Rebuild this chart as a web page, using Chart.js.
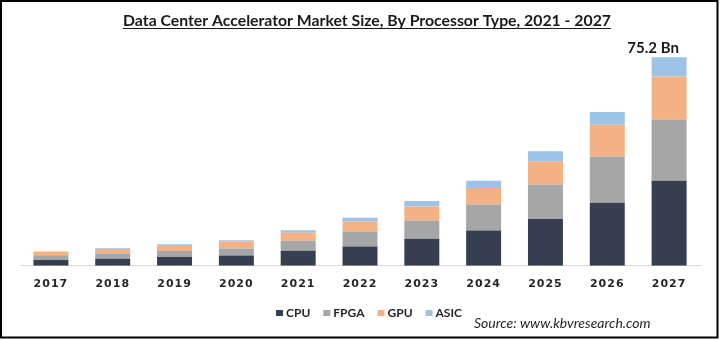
<!DOCTYPE html>
<html>
<head>
<meta charset="utf-8">
<script src="https://cdn.jsdelivr.net/npm/chart.js@4.4.1/dist/chart.umd.min.js"></script>
<style>
  html, body { margin: 0; padding: 0; background: #ffffff; }
  #wrap { width: 720px; height: 340px; position: relative; }
</style>
</head>
<body>
<div id="wrap"><canvas id="c" width="720" height="340"></canvas></div>
<script>
// Market size by processor type, USD billion
const years = ['2017', '2018', '2019', '2020', '2021', '2022', '2023', '2024', '2025', '2026', '2027'];
const cpu  = [2.1, 2.5, 3.2, 3.7, 5.4, 7.0, 9.8, 12.7, 16.9, 22.7, 30.7];
const fpga = [1.7, 1.9, 2.1, 2.5, 3.6, 5.4, 6.5, 9.4, 12.4, 16.7, 22.1];
const gpu  = [1.2, 1.7, 2.2, 2.6, 2.9, 3.6, 5.1, 6.0, 8.4, 11.5, 15.5];
const asic = [0.2, 0.2, 0.3, 0.4, 0.95, 1.3, 2.0, 2.6, 3.6, 4.6, 6.9];
const seriesNames = ['CPU', 'FPGA', 'GPU', 'ASIC'];
const seriesColors = ['#363f50', '#a6a6a6', '#f4b183', '#9dc3e6'];
const titleText = 'Data Center Accelerator Market Size, By Processor Type, 2021 - 2027';
const sourceText = 'Source: www.kbvresearch.com';
const unitText = 'Bn';

const seriesValues = [cpu, fpga, gpu, asic];

// Spaced-out year labels on the category axis
const spacedTicks = {
  id: 'spacedTicks',
  beforeDraw(chart) {
    const s = chart.scales.x;
    if (s && !s.__spaced) {
      const orig = s.drawLabels.bind(s);
      s.drawLabels = (area) => {
        const ctx = chart.ctx;
        ctx.save();
        ctx.letterSpacing = '1px';
        orig(area);
        ctx.restore();
      };
      s.__spaced = true;
    }
  }
};

// Title, legend, source note, total label and frame
const decorations = {
  id: 'decorations',
  afterDraw(chart) {
    const ctx = chart.ctx;
    ctx.save();

    // underlined title
    ctx.font = 'bold 15.8px Lato';
    ctx.fillStyle = '#1a1a1a';
    ctx.textAlign = 'center';
    ctx.textBaseline = 'alphabetic';
    const tx = 367, ty = 26;
    ctx.fillText(titleText, tx, ty);
    const tw = ctx.measureText(titleText).width;
    ctx.fillRect(tx - tw / 2, ty + 2, tw, 1);

    // total of the last year above its bar
    const last = years.length - 1;
    const total = seriesValues.reduce((s, arr) => s + arr[last], 0);
    const topMeta = chart.getDatasetMeta(seriesValues.length - 1);
    const bar = topMeta.data[last];
    ctx.font = 'bold 15px Lato';
    ctx.fillStyle = '#1a1a1a';
    ctx.textAlign = 'center';
    ctx.textBaseline = 'alphabetic';
    ctx.fillText(total.toFixed(1) + ' ' + unitText, bar.x - 16, bar.y - 4);

    // legend
    ctx.font = 'bold 12px Lato';
    ctx.textAlign = 'left';
    ctx.textBaseline = 'middle';
    const box = 7, gapText = 3, gapItem = 13;
    const items = chart.data.datasets.map(d => ({ label: d.label, color: d.backgroundColor }));
    let totalW = 0;
    items.forEach((it, i) => {
      it.w = ctx.measureText(it.label).width;
      totalW += box + gapText + it.w + (i < items.length - 1 ? gapItem : 0);
    });
    let lx = 369 - totalW / 2;
    const ly = 313;
    items.forEach(it => {
      ctx.fillStyle = it.color;
      ctx.fillRect(lx, ly - 3, box, 6);
      ctx.fillStyle = '#262626';
      ctx.fillText(it.label, lx + box + gapText, ly);
      lx += box + gapText + it.w + gapItem;
    });

    // source note
    ctx.font = 'italic 14px Lato';
    ctx.fillStyle = '#262626';
    ctx.textAlign = 'left';
    ctx.textBaseline = 'alphabetic';
    ctx.fillText(sourceText, 474, 328);

    // frame
    ctx.strokeStyle = '#000000';
    ctx.lineWidth = 2;
    ctx.strokeRect(1, 1, 716.5, 336.5);

    ctx.restore();
  }
};

new Chart(document.getElementById('c'), {
  type: 'bar',
  data: {
    labels: years,
    datasets: seriesNames.map((name, i) => ({
      label: name,
      data: seriesValues[i],
      backgroundColor: seriesColors[i],
      borderWidth: 0,
      barPercentage: 0.566,
      categoryPercentage: 1
    }))
  },
  options: {
    responsive: false,
    animation: false,
    devicePixelRatio: 1,
    layout: { padding: { left: 20, right: 20, top: 44, bottom: 37 } },
    plugins: {
      legend: { display: false },
      title: { display: false },
      tooltip: { enabled: false }
    },
    scales: {
      x: {
        stacked: true,
        grid: { display: false, drawTicks: false },
        border: { display: true, color: '#d9d9d9', width: 1 },
        ticks: {
          font: { family: 'DejaVu Sans', weight: 'bold', size: 11 },
          color: '#262626',
          padding: 12
        }
      },
      y: {
        stacked: true,
        display: false,
        min: 0,
        max: 80
      }
    }
  },
  plugins: [spacedTicks, decorations]
});
</script>
</body>
</html>
